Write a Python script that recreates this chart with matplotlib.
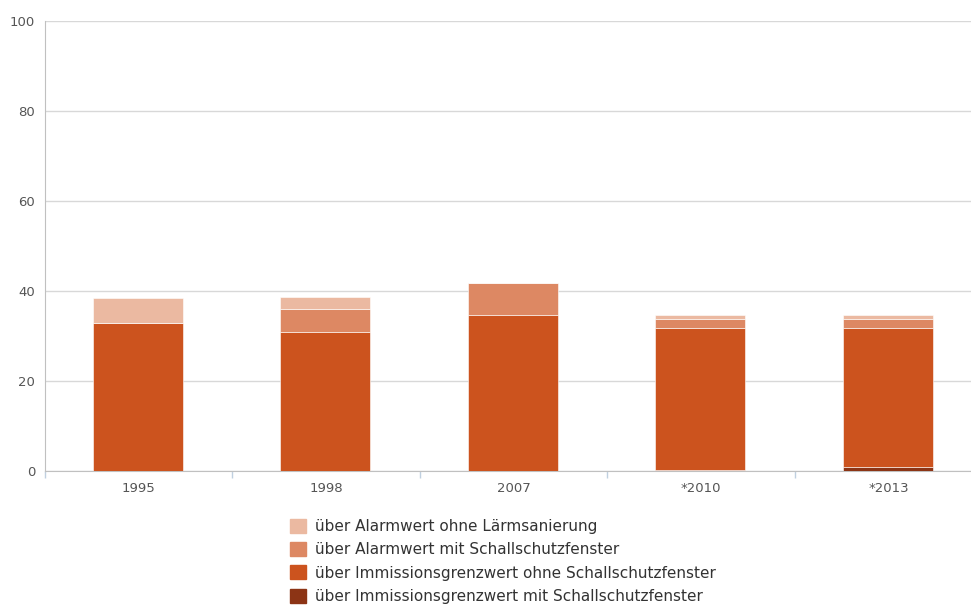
import matplotlib.pyplot as plt
import numpy as np
from matplotlib.patches import Patch

years = ["1995", "1998", "2007", "*2010", "*2013"]

# stacked from bottom to top
immi_mit = [0.0, 0.0, 0.0, 0.2, 0.8]
immi_ohne = [32.9, 31.0, 34.7, 31.6, 31.0]
alarm_mit = [0.0, 5.0, 7.0, 2.0, 2.0]
alarm_ohne = [5.5, 2.6, 0.0, 0.9, 0.9]

labels = ["über Alarmwert ohne Lärmsanierung",
          "über Alarmwert mit Schallschutzfenster",
          "über Immissionsgrenzwert ohne Schallschutzfenster",
          "über Immissionsgrenzwert mit Schallschutzfenster"]
colors = ["#EBB9A1", "#DD8863", "#CC531E", "#8C3415"]

fig = plt.figure(figsize=(9.71, 6.07), dpi=100)
ax = fig.add_axes([0.0463, 0.224, 0.9655, 0.741])

x = np.arange(len(years))
series = [immi_mit, immi_ohne, alarm_mit, alarm_ohne]
series_colors = colors[::-1]
bottom = np.zeros(len(years))
for vals, c in zip(series, series_colors):
    vals = np.array(vals)
    ax.bar(x - 0.005, vals, 0.48, bottom=bottom, color=c, edgecolor="#FFFFFF", linewidth=0.4, zorder=3)
    bottom += vals

ax.set_xlim(-0.5, len(years) - 0.5)
ax.set_ylim(0, 100)
ax.set_yticks([0, 20, 40, 60, 80, 100])
ax.yaxis.grid(True, color="#D8D8D8", linewidth=1, zorder=0)
ax.tick_params(axis="y", length=0, pad=7, labelsize=9.5, labelcolor="#555555")

ax.set_xticks(x)
ax.set_xticklabels(years)
ax.set_xticks(np.arange(-0.5, len(years)), minor=True)
ax.tick_params(axis="x", which="major", length=0, pad=8, labelsize=9.5, labelcolor="#555555")
ax.tick_params(axis="x", which="minor", length=5, color="#C0D0E0", width=1)

for s in ["top", "right"]:
    ax.spines[s].set_visible(False)
ax.spines["left"].set_color("#C0C0C0")
ax.spines["bottom"].set_color("#C0C0C0")

handles = [Patch(facecolor=c, edgecolor=c) for c in colors]
fig.legend(handles, labels, loc="upper center", bbox_to_anchor=(0.518, 0.168),
           frameon=False, fontsize=11, labelspacing=0.52, handlelength=1.05,
           handleheight=1.05, handletextpad=0.6, labelcolor="#333333")

fig.savefig("out.png", dpi=100)
